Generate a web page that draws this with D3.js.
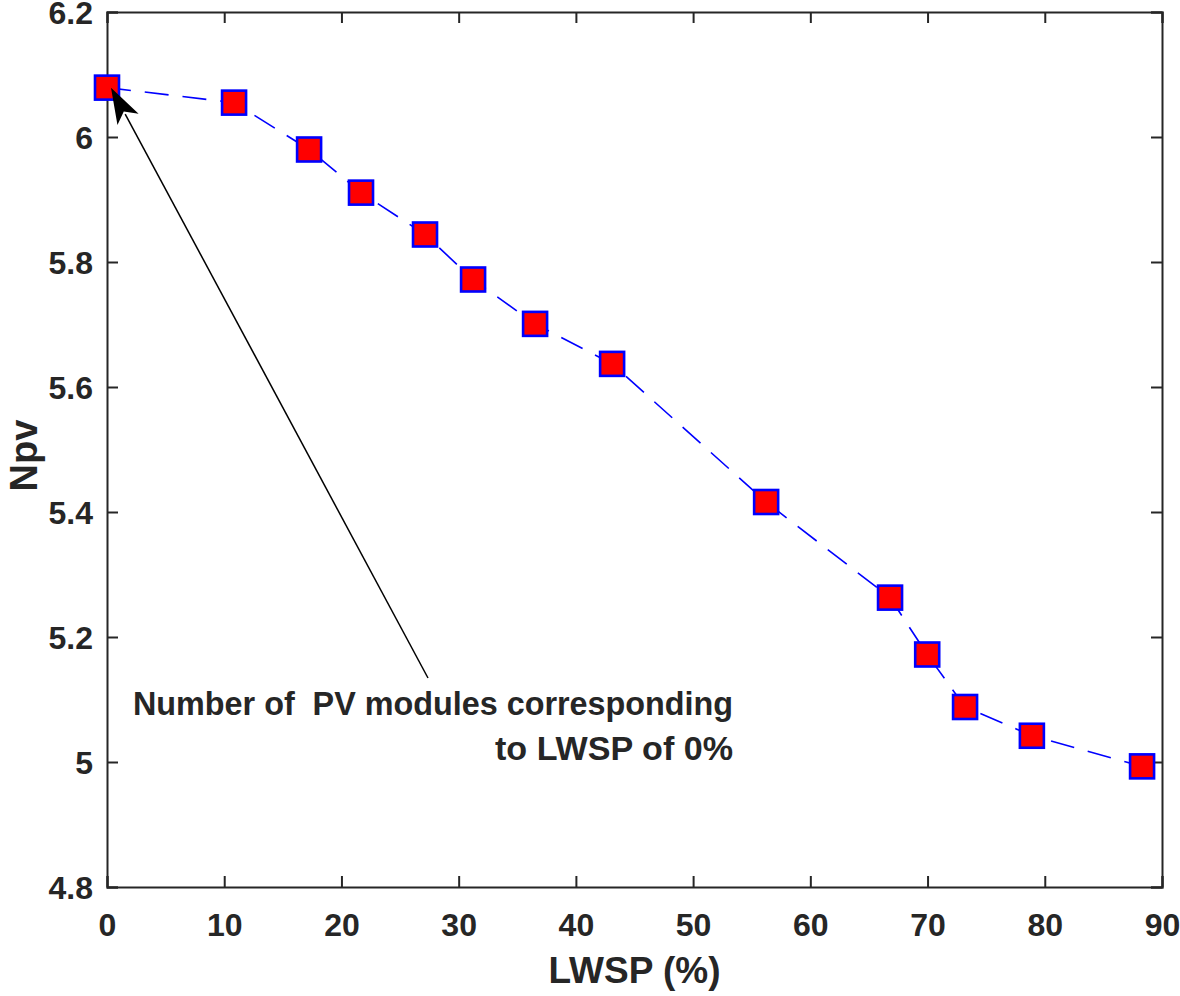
<!DOCTYPE html>
<html><head><meta charset="utf-8">
<script src="https://cdn.jsdelivr.net/npm/d3@7"></script>
<style>body{margin:0;background:#fff}svg{display:block}text{font-family:"Liberation Sans",Arial,sans-serif;font-weight:bold;fill:#262626}</style>
</head><body>
<svg id="c" width="1180" height="996"></svg>
<script>
const lwsp = [0, 10.84, 17.24, 21.67, 27.13, 31.23, 36.52, 43.09, 56.23, 66.8, 69.97, 73.2, 78.9, 88.3];
const npv  = [6.079, 6.055, 5.98, 5.911, 5.844, 5.772, 5.701, 5.637, 5.416, 5.263, 5.172, 5.088, 5.042, 4.993];
const xTicks = [0,10,20,30,40,50,60,70,80,90];
const yTicks = [4.8,5,5.2,5.4,5.6,5.8,6,6.2];
const annotation = ["Number of  PV modules corresponding", "to LWSP of 0%"];

const svg = d3.select("#c");
const L=107, R=1162, T=12, B=887;
const x = d3.scaleLinear().domain([0,90]).range([L,R]);
const y = d3.scaleLinear().domain([4.8,6.2]).range([B,T]);
const fmt = d => (Math.round(d*10)/10).toString();

// axes
const ax = svg.append("g").attr("transform",`translate(0,${B})`)
  .call(d3.axisBottom(x).tickValues(xTicks).tickSize(-11).tickPadding(26).tickFormat(fmt));
const axT = svg.append("g").attr("transform",`translate(0,${T})`)
  .call(d3.axisTop(x).tickValues(xTicks).tickSize(-11).tickFormat(""));
const ay = svg.append("g").attr("transform",`translate(${L},0)`)
  .call(d3.axisLeft(y).tickValues(yTicks).tickSize(-11).tickPadding(14).tickFormat(fmt));
const ayR = svg.append("g").attr("transform",`translate(${R},0)`)
  .call(d3.axisRight(y).tickValues(yTicks).tickSize(-11).tickFormat(""));
[ax,axT,ay,ayR].forEach(g=>{
  g.select(".domain").attr("stroke","#262626").attr("stroke-width",2);
  g.selectAll(".tick line").attr("stroke","#262626").attr("stroke-width",2);
  g.selectAll("text").attr("font-size",32).attr("font-family","Liberation Sans, Arial, sans-serif").attr("font-weight","bold").attr("fill","#262626");
});
ax.selectAll("text").attr("dy","0.71em");
ay.selectAll("text").attr("dy","0.36em");

// axis titles
svg.append("text").attr("x",(L+R)/2).attr("y",983).attr("text-anchor","middle").attr("font-size",37).text("LWSP (%)");
svg.append("text").attr("transform",`translate(37,${(T+B)/2+6}) rotate(-90)`).attr("text-anchor","middle").attr("font-size",38).text("Npv");

// data line
const pts = lwsp.map((v,i)=>[v,npv[i]]);
svg.append("path").datum(pts)
  .attr("d", d3.line().x(d=>x(d[0])).y(d=>y(d[1])))
  .attr("fill","none").attr("stroke","#0000ff").attr("stroke-width",1.6)
  .attr("stroke-dasharray","24,14");

// markers
const s=24;
svg.append("g").selectAll("rect").data(pts).join("rect")
  .attr("x",d=>x(d[0])-s/2).attr("y",d=>y(d[1])-s/2)
  .attr("width",s).attr("height",s)
  .attr("fill","#ff0000").attr("stroke","#0000ff").attr("stroke-width",2.6);

// annotation arrow
const tip=[x(lwsp[0])+4, y(npv[0])];
const tail=[428,678];
const ang=Math.atan2(tail[1]-tip[1], tail[0]-tip[0]);
const hl=36, hw=12;
const bx=tip[0]+hl*Math.cos(ang), by=tip[1]+hl*Math.sin(ang);
svg.append("line").attr("x1",bx-6*Math.cos(ang)).attr("y1",by-6*Math.sin(ang)).attr("x2",tail[0]).attr("y2",tail[1])
  .attr("stroke","#000").attr("stroke-width",1.5);
const px=-Math.sin(ang), py=Math.cos(ang);
const back=[tip[0]+(hl-9)*Math.cos(ang), tip[1]+(hl-9)*Math.sin(ang)];
svg.append("path").attr("d",`M${tip[0]},${tip[1]} L${bx+hw*px},${by+hw*py} L${back[0]},${back[1]} L${bx-hw*px},${by-hw*py} Z`).attr("fill","#000");

svg.append("text").attr("x",133).attr("y",715).attr("font-size",34).attr("fill","#000")
  .attr("textLength",600).attr("lengthAdjust","spacingAndGlyphs").style("white-space","pre").text(annotation[0]);
svg.append("text").attr("x",733).attr("y",760).attr("font-size",34).attr("fill","#000").attr("text-anchor","end")
  .attr("textLength",238).attr("lengthAdjust","spacingAndGlyphs").text(annotation[1]);
</script>
</body></html>
